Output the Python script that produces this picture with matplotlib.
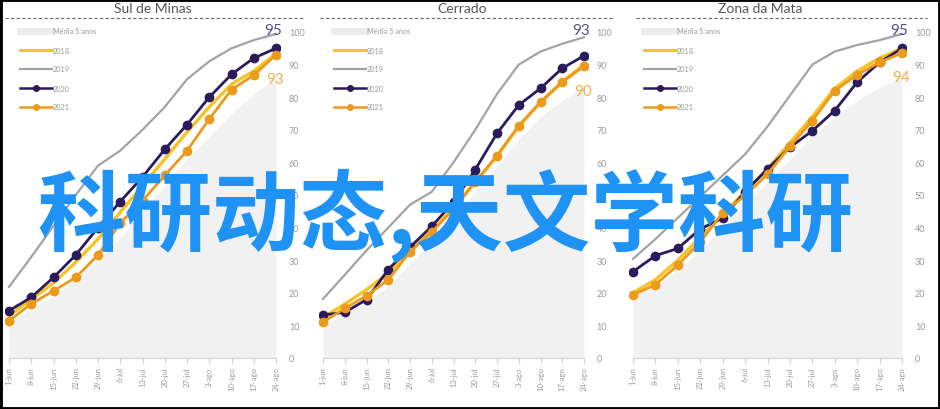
import matplotlib
matplotlib.use("Agg")
import matplotlib.pyplot as plt
from matplotlib.lines import Line2D
from matplotlib.patches import Rectangle

W, H = 940, 410

weeks = ["1-jun", "8-jun", "15-jun", "22-jun", "29-jun", "6-jul", "13-jul",
         "20-jul", "27-jul", "3-ago", "10-ago", "17-ago", "24-ago"]
yticks = [0, 10, 20, 30, 40, 50, 60, 70, 80, 90, 100]
legend_labels = ["Média 5 anos", "2018", "2019", "2020", "2021"]

# Sul de Minas
sul_media = [11, 15, 19, 24, 30, 37, 45, 53, 61, 68, 75, 81, 86]
sul_2018 = [13, 18, 23, 29.4, 36.5, 44.7, 52.9, 61, 69.3, 77, 84, 88, 93.3]
sul_2019 = [21.8, 31, 40.5, 50, 59, 63.6, 70, 77, 85.5, 91, 95, 97.5, 99.4]
sul_2020 = [14.5, 18.6, 24.7, 31.6, 40, 48, 55.5, 64, 71.6, 80, 87, 92, 95]
sul_2021 = [11.4, 16.6, 20.6, 24.7, 31.6, 41.4, 48.3, 56, 63.6, 73.3, 82.3, 86.8, 93]

# Cerrado
cer_media = [10, 13.5, 17, 22, 29, 36, 43, 51, 59, 67, 74, 79, 83]
cer_2018 = [12.5, 16.5, 21, 26, 32.8, 39, 46, 54, 62, 71, 78.5, 84.8, 90]
cer_2019 = [18.1, 25.5, 33, 40, 47, 51, 60, 70, 81, 90, 94, 96.4, 98.4]
cer_2020 = [13.2, 14, 17.9, 27.1, 34, 40.4, 47.8, 57.8, 68.9, 77.6, 82.7, 88.9, 92.7]
cer_2021 = [11, 15.2, 19.1, 24, 32.6, 38.6, 45.7, 54, 62, 71.3, 78.4, 84.6, 89.5]

# Zona da Mata
zona_media = [19, 22, 27, 33, 40, 47, 54, 61, 68, 74, 79, 83, 86]
zona_2018 = [20, 24, 30, 37, 44, 51, 58, 66, 74, 82.7, 88, 92, 95]
zona_2019 = [30.4, 36.5, 43, 49.5, 56, 62.5, 71, 80.5, 90, 94, 96, 97.5, 99.4]
zona_2020 = [26.5, 31.4, 33.6, 39.6, 42.9, 51, 58, 64.6, 69.7, 75.9, 84.6, 90.7, 95]
zona_2021 = [19.4, 22.5, 28.5, 35.6, 44.5, 49.8, 56.4, 64.9, 72.8, 82, 86.9, 90.7, 93.6]

panels = [
    ("Sul de Minas", sul_media, sul_2018, sul_2019, sul_2020, sul_2021),
    ("Cerrado", cer_media, cer_2018, cer_2019, cer_2020, cer_2021),
    ("Zona da Mata", zona_media, zona_2018, zona_2019, zona_2020, zona_2021),
]

C_MEDIA = "#f1f1f1"
C_2018 = "#f7c325"
C_2019 = "#a3a3a3"
C_2020 = "#2b1b5c"
C_2021 = "#ec9a1c"
C_TXT = "#9a9a9a"

# pixel geometry: x of first / last week, dashed line span, title centre
geom = [
    dict(x0=9, x1=276, line=(5, 305), title=153),
    dict(x0=323, x1=584, line=(320, 613), title=462),
    dict(x0=633, x1=902, line=(636, 927), title=760),
]
Y0, Y100 = 359, 33

num_font = ["Lato", "DejaVu Sans"]

fig = plt.figure(figsize=(W / 100, H / 100), dpi=100)
fig.patch.set_facecolor("white")

xs = list(range(len(weeks)))

for (name, media, y18, y19, y20, y21), g in zip(panels, geom):
    step = (g["x1"] - g["x0"]) / 12.0
    left = g["x0"] - 0.2 * step
    right = g["x1"] + 0.2 * step
    ax = fig.add_axes([left / W, 1 - Y0 / H, (right - left) / W, (Y0 - Y100) / H])
    ax.set_xlim(-0.2, 12.2)
    ax.set_ylim(0, 100)

    ax.fill_between(xs, 0, media, color=C_MEDIA, lw=0, zorder=1)
    ax.plot(xs, y19, color=C_2019, lw=1.6, zorder=2)
    ax.plot(xs, y18, color=C_2018, lw=2.4, zorder=3)
    ax.plot(xs, y20, color=C_2020, lw=2.0, marker="o", ms=6, zorder=4)
    ax.plot(xs, y21, color=C_2021, lw=2.0, marker="o", ms=6, zorder=5)

    ax.text(11.85, 100.5, f"{y20[-1]:.0f}", color="#5a4f86", fontsize=11,
            ha="center", va="center", family=num_font, clip_on=False)
    ax.text(11.95, y21[-1] - 7.5, f"{y21[-1]:.0f}", color="#f0b04a", fontsize=11,
            ha="center", va="center", family=num_font, clip_on=False)

    for s in ("left", "top", "right"):
        ax.spines[s].set_visible(False)
    ax.spines["bottom"].set_color("#d4d4d4")
    ax.spines["bottom"].set_bounds(0, 12)
    ax.set_xticks(xs)
    ax.set_xticklabels(weeks, rotation=90, fontsize=5.5, color=C_TXT, family=num_font)
    ax.tick_params(axis="x", length=4, color="#d4d4d4", pad=2)
    ax.yaxis.tick_right()
    ax.set_yticks(yticks)
    ax.set_yticklabels([str(v) for v in yticks], fontsize=6.5, color=C_TXT, family=num_font)
    ax.tick_params(axis="y", length=0, pad=6)
    ax.patch.set_alpha(0)

    # title + dashed rule
    fig.text(g["title"] / W, 1 - 9 / H, name, ha="center", va="center",
             fontsize=10, color="#555555", family=num_font)
    fig.add_artist(Line2D([g["line"][0] / W, g["line"][1] / W], [1 - 19 / H, 1 - 19 / H],
                          color="#666666", lw=0.8, ls=(0, (3, 2))))

    # legend drawn by hand, top left of each panel
    lx0 = g["x0"] + 11
    lx1 = lx0 + 32
    rows = [32, 51, 70, 89, 108]
    styles = [
        dict(color="#ececec", lw=5),
        dict(color=C_2018, lw=2.2),
        dict(color=C_2019, lw=1.6),
        dict(color=C_2020, lw=1.8, marker="o", ms=4, markevery=[1]),
        dict(color=C_2021, lw=1.8, marker="o", ms=4, markevery=[1]),
    ]
    for ry, lab, st in zip(rows, legend_labels, styles):
        fig.add_artist(Line2D([lx0 / W, (lx0 + lx1) / 2 / W, lx1 / W],
                              [1 - ry / H] * 3, **st))
        fig.text((lx1 + 1) / W, 1 - ry / H, lab, ha="left", va="center",
                 fontsize=5.3, color=C_TXT, family=num_font)

# overlay banner text
fig.text(37 / W, 1 - 216 / H, "科研动态,天文学科研", ha="left", va="center",
         fontsize=63, color="#1f93f5", fontweight="bold",
         family=["Noto Sans CJK SC", "DejaVu Sans"], zorder=10)

# black frame around the picture
fig.add_artist(Rectangle((0, 0), 1, 1, transform=fig.transFigure, fill=False,
                         edgecolor="black", lw=3.5, zorder=20))

fig.savefig("out.png", dpi=100)
